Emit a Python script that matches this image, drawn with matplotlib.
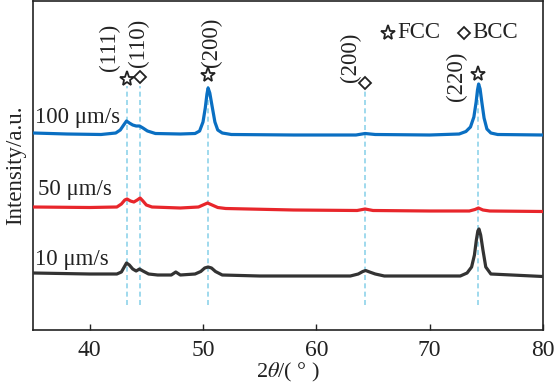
import matplotlib
matplotlib.use("Agg")
import matplotlib.pyplot as plt

plt.rcParams['font.family'] = ['Liberation Serif', 'DejaVu Serif']
plt.rcParams['mathtext.fontset'] = 'stix'

# ---- data (intensity in arbitrary units) ----
x_100 = [35, 38, 41, 42.3, 42.7, 43.0, 43.25, 43.5, 43.8, 44.1, 44.4, 44.7, 45.1, 45.8, 48,
         49.3, 49.7, 50.0, 50.2, 50.35, 50.45, 50.6, 50.8, 51.05, 51.3, 51.7, 52.5, 58, 63.5,
         64.3, 65.2, 70, 72.6, 73.2, 73.6, 73.9, 74.1, 74.22, 74.32, 74.45, 74.6, 74.8, 75.05,
         75.4, 76, 80]
y_100 = [197, 196, 195.5, 197, 200, 205, 209, 207, 205, 204, 204, 202, 199, 196.5, 196,
         196.5, 199, 208, 222, 236, 242, 237, 224, 208, 200, 197, 195.5, 195, 195,
         196.5, 195.5, 195, 196, 198.5, 203, 213, 228, 240, 246, 241, 228, 212, 201,
         197, 195.5, 195]

x_50 = [35, 40, 42.4, 42.8, 43.1, 43.3, 43.6, 43.9, 44.2, 44.45, 44.7, 45.0, 45.5, 48, 49.6,
        50.0, 50.4, 50.8, 51.3, 52, 58, 63.6, 64.3, 65.0, 70, 73.5, 74.0, 74.3, 74.7, 75.3, 80]
y_50 = [123, 122.5, 123, 126, 130, 131, 129, 128, 130, 132, 129, 125, 123, 122, 123,
        125, 127, 125, 122.5, 121.5, 120, 119.5, 121, 119.5, 119, 119, 120.5, 122, 120, 119, 118.5]

x_10 = [35, 40, 42.4, 42.8, 43.05, 43.25, 43.5, 43.8, 44.1, 44.4, 44.7, 45.2, 46, 47.2, 47.6,
        48.0, 49.3, 49.8, 50.15, 50.45, 50.75, 51.1, 51.7, 55, 63.0, 63.7, 64.1, 64.35, 64.7,
        65.2, 66, 72.7, 73.3, 73.7, 73.95, 74.12, 74.25, 74.35, 74.5, 74.7, 74.95, 75.4, 80]
y_10 = [57, 56, 56, 58, 63, 67, 65, 61, 59, 61, 59, 56, 55, 55, 58,
        55, 56, 58.5, 62, 63, 62, 58.5, 55, 54, 54, 56, 58.5, 59.5, 58,
        56, 54, 54, 57, 63, 75, 90, 99, 101, 95, 80, 63, 56, 53.5]

series_labels = ["100 μm/s", "50 μm/s", "10 μm/s"]
series_colors = ["#0a6fc2", "#e8262b", "#333333"]

peak_pos = [43.25, 44.4, 50.45, 64.3, 74.3]
peak_hkl = ["(111)", "(110)", "(200)", "(200)", "(220)"]
peak_phase = ["FCC", "BCC", "FCC", "BCC", "FCC"]
marker_y = [251, 253, 255, 247, 256]
label_y = [283, 287, 288, 273, 254]
label_dx = [-1.5, -0.1, 0.3, -1.3, -1.9]

fig = plt.figure(figsize=(5.57, 3.90), dpi=100)
ax = fig.add_axes([33/557, 60/390, 510/557, 329/390])

for xs, ys, c in zip([x_100, x_50, x_10], [y_100, y_50, y_10], series_colors):
    ax.plot(xs, ys, color=c, lw=2.3, solid_joinstyle='round', zorder=3)

for p in peak_pos:
    ax.plot([p, p], [25, 244], color='#8fd3ea', lw=1.2, dashes=(3, 2), zorder=2)

for p, ph, my in zip(peak_pos, peak_phase, marker_y):
    if ph == "FCC":
        ax.plot(p, my, marker='*', ms=11, mfc='white', mec='#222222', mew=1.3, zorder=4)
    else:
        ax.plot(p, my, marker='D', ms=6, mfc='white', mec='#222222', mew=1.3, zorder=4)

for p, lab, ly, dx in zip(peak_pos, peak_hkl, label_y, label_dx):
    ax.text(p + dx, ly, lab, rotation=90, ha='center', va='center', fontsize=16.5, color='#222222')

# legend
ax.plot(66.3, 297, marker='*', ms=11, mfc='white', mec='#222222', mew=1.3)
ax.text(67.1, 297, "FCC", ha='left', va='center', fontsize=16.5, color='#222222')
ax.plot(73.05, 297, marker='D', ms=6, mfc='white', mec='#222222', mew=1.3)
ax.text(73.75, 297, "BCC", ha='left', va='center', fontsize=16.5, color='#222222')

# series labels
ax.text(35.15, 213, series_labels[0], ha='left', va='center', fontsize=16.5, color='#222222')
ax.text(35.4, 140, series_labels[1], ha='left', va='center', fontsize=16.5, color='#222222')
ax.text(35.15, 71, series_labels[2], ha='left', va='center', fontsize=16.5, color='#222222')

ax.set_xlim(35, 79.75)
ax.set_ylim(0, 329)
ax.set_xticks([40, 50, 60, 70, 80])
ax.set_yticks([])
ax.tick_params(axis='x', direction='in', length=4, width=1, labelsize=17, pad=7, colors='#222222')
for s in ax.spines.values():
    s.set_linewidth(1.2)
    s.set_color('#222222')

ax.set_xlabel("2$\\theta$/( ° )", fontsize=16, labelpad=0, color='#222222')
ax.set_ylabel("Intensity/a.u.", fontsize=16.5, labelpad=5, color='#222222')

fig.savefig("out.png", dpi=100)
